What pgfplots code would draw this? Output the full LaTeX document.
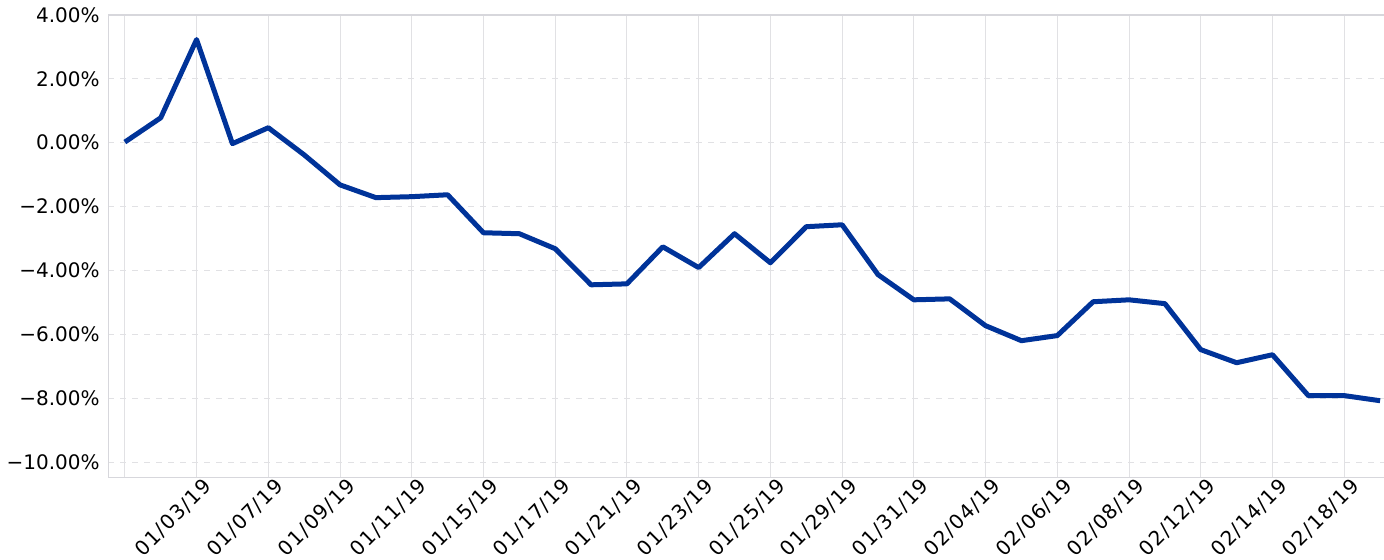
\documentclass[border=0pt]{standalone}
\usepackage{fontspec}
\setmainfont{DejaVu Sans}
\newfontfamily\xlabfont[LetterSpace=6]{DejaVu Sans}
\usepackage{pgfplots}
\pgfplotsset{compat=1.18}
\definecolor{lineblue}{RGB}{0,51,153}
\definecolor{gridc}{RGB}{225,225,228}
\definecolor{spinec}{RGB}{215,215,220}
\begin{document}
\begin{tikzpicture}
\begin{axis}[
  name=ax,
  scale only axis,
  width=638pt, height=231.5pt,
  xmin=-0.47, xmax=35.11,
  ymin=-10.5, ymax=4.0,
  axis line style={draw=none},
  major tick length=0pt,
  xtick={0,2,...,34},
  xticklabels={,01/03/19,01/07/19,01/09/19,01/11/19,01/15/19,01/17/19,01/21/19,01/23/19,01/25/19,01/29/19,01/31/19,02/04/19,02/06/19,02/08/19,02/12/19,02/14/19,02/18/19},
  xticklabel style={rotate=45, anchor=north east, font=\xlabfont\fontsize{10}{12}\selectfont, inner sep=0pt, xshift=2.5pt, yshift=-1.5pt},
  ytick={-10,-8,-6,-4,-2,0,2,4},
  yticklabels={−10.00\%,−8.00\%,−6.00\%,−4.00\%,−2.00\%,0.00\%,2.00\%,4.00\%},
  yticklabel style={font=\fontsize{10}{12}\selectfont, inner sep=0pt, xshift=-4pt},
  xmajorgrids, ymajorgrids,
  x grid style={gridc, line width=0.5pt},
  y grid style={gridc, line width=0.5pt, dashed},
  clip=true,
]
\addplot[lineblue, line width=2.5pt, line join=round] coordinates {
(0,0.02) (1,0.78) (2,3.23) (3,-0.03) (4,0.47) (5,-0.38) (6,-1.32) (7,-1.72)
(8,-1.69) (9,-1.63) (10,-2.82) (11,-2.85) (12,-3.32) (13,-4.45) (14,-4.42)
(15,-3.26) (16,-3.91) (17,-2.85) (18,-3.76) (19,-2.63) (20,-2.57) (21,-4.13)
(22,-4.92) (23,-4.89) (24,-5.73) (25,-6.20) (26,-6.04) (27,-4.98) (28,-4.92)
(29,-5.04) (30,-6.48) (31,-6.89) (32,-6.64) (33,-7.92) (34,-7.92) (35,-8.08)
};
\draw[spinec, line width=0.7pt] (rel axis cs:0,1) -- (rel axis cs:0,0) -- (rel axis cs:1,0);
\draw[spinec, line width=0.7pt] (rel axis cs:0,1) -- (rel axis cs:1,1);
\end{axis}
\pgfresetboundingbox
\path ([shift={(-54pt,-41pt)}]ax.south west) rectangle ([shift={(0pt,7.5pt)}]ax.north east);
\end{tikzpicture}
\end{document}
